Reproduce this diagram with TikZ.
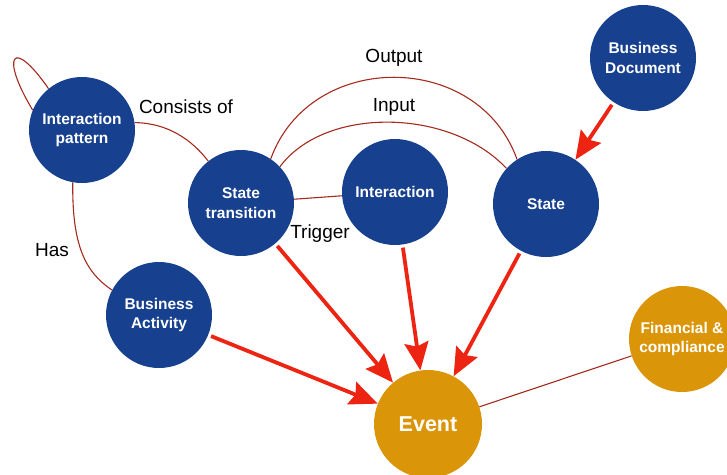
\documentclass[tikz,border=0pt]{standalone}
\usepackage{fontspec}
\setmainfont{Liberation Sans}
\usetikzlibrary{arrows.meta}
\definecolor{nodeblue}{HTML}{17408F}
\definecolor{nodegold}{HTML}{DB9509}
\definecolor{linkred}{HTML}{A52A1E}
\definecolor{arrowred}{HTML}{EE2412}

\begin{document}
\begin{tikzpicture}[x=1pt,y=-1pt,
  concept/.style={circle, minimum size=106pt, inner sep=0pt, text=white,
    font=\bfseries\fontsize{15.5}{19.5}\selectfont, align=center},
  bluec/.style={concept, fill=nodeblue},
  goldc/.style={concept, fill=nodegold},
  link/.style={draw=linkred, line width=1.1pt},
  flow/.style={draw=arrowred, line width=3.8pt,
    -{Stealth[length=28pt,width=24pt,inset=4pt]}, shorten <=3pt},
  rel/.style={font=\fontsize{19}{22}\selectfont, text=black, inner sep=0pt}]

\clip (0,0) rectangle (727,474);
\useasboundingbox (0,0) rectangle (727,474);

% concepts
\node[bluec] (ip)    at (82,130)  {Interaction\\pattern};
\node[bluec] (st)    at (241,203) {State\\transition};
\node[bluec] (int)   at (395,192) {Interaction};
\node[bluec] (state) at (546,204) {State};
\node[bluec] (bd)    at (643,58)  {Business\\Document};
\node[bluec] (ba)    at (159,315) {Business\\Activity};
\node[goldc, minimum size=108pt, font=\bfseries\fontsize{21.5}{24}\selectfont] (ev) at (428,424) {Event};
\node[goldc] (fin)   at (682,339) {Financial \&\\compliance};

% relation labels
\node[rel] (lout)  at (394,58)  {Output};
\node[rel] (lin)   at (394,107) {Input};
\node[rel] (lcons) at (186,107) {Consists of};
\node[rel] (ltrig) at (320,234) {Trigger};
\node[rel] (lhas)  at (52,250)  {Has};

% thin relations
\draw[link] (ip.129) .. controls (12,36) and (0,56) .. (ip.158);
\draw[link] (ip.8) .. controls (168,123) and (192,140) .. (st.128);
\draw[link] (ip.260) .. controls (72,245) and (85,272) .. (ba.152);
\draw[link] (st.56) .. controls (310,50) and (478,50) .. (state.123);
\draw[link] (st.43) .. controls (325,106) and (450,108) .. (state.138);
\draw[link] (st) -- (int);
\draw[link] (ev) -- (fin);

% event flows
\draw[flow] (ba) -- (ev);
\draw[flow] (st) -- (ev);
\draw[flow] (int) -- (ev);
\draw[flow] (state) -- (ev);
\draw[flow] (bd) -- (state);
\end{tikzpicture}
\end{document}
